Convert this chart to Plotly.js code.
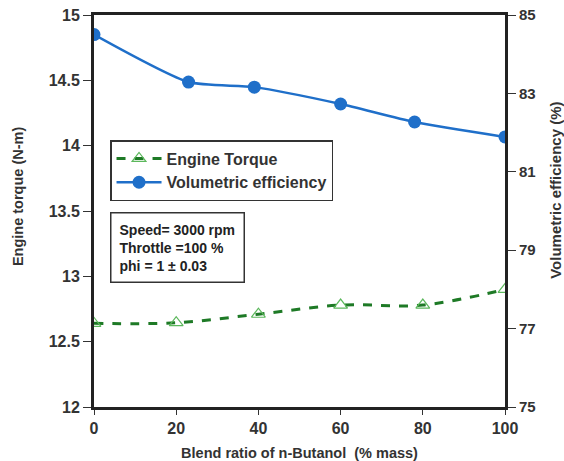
<!DOCTYPE html>
<html><head><meta charset="utf-8">
<script src="https://cdn.plot.ly/plotly-3.0.1.min.js"></script>
<style>body{margin:0;background:#fff}#chart{width:564px;height:461px}</style>
</head><body><div id="chart"></div>
<script>
var torqueX = [0, 20, 40, 60, 80, 100];
var torqueY = [12.64, 12.645, 12.71, 12.78, 12.78, 12.9];
var volX = [0, 23, 39, 60, 78, 100];
var volY = [84.5, 83.29, 83.16, 82.73, 82.27, 81.89];
var leftTicks = [12, 12.5, 13, 13.5, 14, 14.5, 15];
var leftLabels = ['12', '12.5', '13', '13.5', '14', '14.5', '15'];
var rightTicks = [75, 77, 79, 81, 83, 85];
var xTicks = [0, 20, 40, 60, 80, 100];

var F = 'Liberation Sans, Arial, sans-serif';
var traces = [
  {x: torqueX, y: torqueY, name: '<b>Engine Torque</b>', mode: 'lines+markers', type: 'scatter',
   line: {color: '#1e7a26', width: 3, dash: 'dash', shape: 'spline'},
   marker: {symbol: 'triangle-up-open', size: 12, color: '#5cb85c', line: {width: 1.2}}},
  {x: volX, y: volY, name: '<b>Volumetric efficiency</b>', mode: 'lines+markers', type: 'scatter', yaxis: 'y2',
   line: {color: '#1f6fc9', width: 2.5, shape: 'spline', smoothing: 0.6},
   marker: {symbol: 'circle', size: 13, color: '#1f6fc9'}}
];
var layout = {
  width: 564, height: 461,
  margin: {l: 94, r: 59, t: 15, b: 54},
  paper_bgcolor: '#fff', plot_bgcolor: '#fff',
  font: {family: F, color: '#222'},
  showlegend: true,
  legend: {x: 0.039, y: 0.681, xanchor: 'left', yanchor: 'top', bgcolor: '#fff',
    bordercolor: '#333', borderwidth: 1.5, font: {size: 16, color: '#333'}, traceorder: 'normal',
    itemwidth: 45, tracegroupgap: 4},
  xaxis: {range: [0, 100], tickvals: xTicks, ticktext: xTicks.map(function(v){return '<b>'+v+'</b>';}),
    ticks: 'outside', ticklen: 5, tickcolor: '#333',
    showline: true, linecolor: '#222', linewidth: 3, mirror: true, showgrid: false, zeroline: false,
    tickfont: {size: 16, color: '#333'},
    title: {text: '<b>Blend ratio of n-Butanol  (% mass)</b>', font: {size: 14.5, color: '#333'}, standoff: 12}},
  yaxis: {range: [12, 15], tickvals: leftTicks, ticktext: leftLabels.map(function(v){return '<b>'+v+'</b>';}),
    ticks: 'outside', ticklen: 8, tickcolor: '#333', showline: true, linecolor: '#222', linewidth: 3,
    showgrid: false, zeroline: false, tickfont: {size: 16, color: '#333'}},
  yaxis2: {range: [75, 85], tickvals: rightTicks, ticktext: rightTicks.map(function(v){return '<b>'+v+'</b>';}),
    overlaying: 'y', side: 'right',
    ticks: 'outside', ticklen: 8, tickcolor: '#333', showline: true, linecolor: '#222', linewidth: 3,
    showgrid: false, zeroline: false, tickfont: {size: 15, color: '#333'}},
  annotations: [
    {xref: 'paper', yref: 'paper', x: 0.039, y: 0.497, xanchor: 'left', yanchor: 'top',
     align: 'left', showarrow: false, bordercolor: '#333', borderwidth: 1.5, borderpad: 8, bgcolor: '#fff',
     text: '<b>Speed= 3000 rpm<br>Throttle =100 %<br>phi = 1 ± 0.03</b>', font: {size: 14, color: '#222'}},
    {xref: 'paper', yref: 'paper', x: -0.185, y: 0.538, xanchor: 'center', yanchor: 'middle',
     textangle: -90, showarrow: false, text: '<b>Engine torque (N-m)</b>', font: {size: 14.5, color: '#333'}},
    {xref: 'paper', yref: 'paper', x: 1.124, y: 0.554, xanchor: 'center', yanchor: 'middle',
     textangle: -90, showarrow: false, text: '<b>Volumetric efficiency (%)</b>', font: {size: 15, color: '#333'}}
  ]
};
Plotly.newPlot('chart', traces, layout, {displayModeBar: false});
</script></body></html>
